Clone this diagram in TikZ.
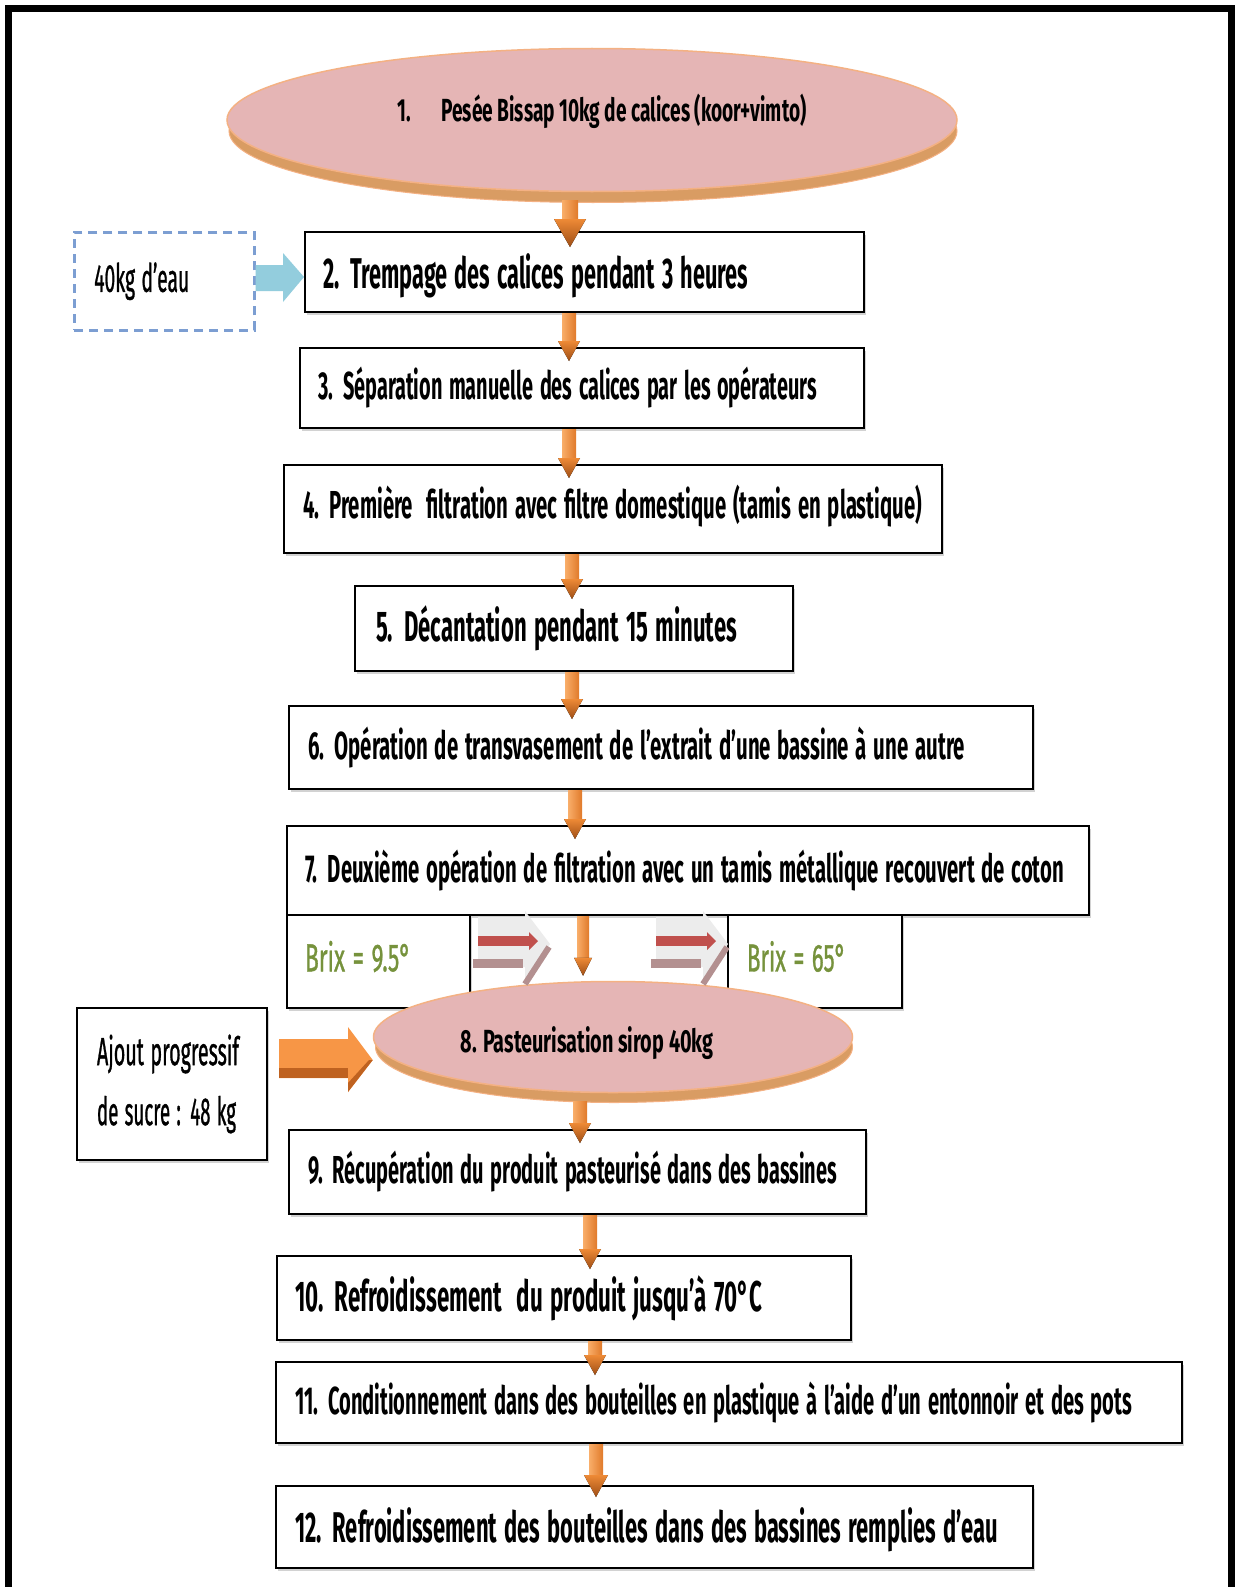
\documentclass[tikz,border=0pt]{standalone}
\usepackage{fontspec}
\setmainfont{Fira Sans}
\newfontfamily\medfont[FakeBold=1.2]{Fira Sans}
\usepackage{graphicx}
\usetikzlibrary{shapes.geometric,calc,shadows}
\definecolor{pinkE}{HTML}{E5B5B5}
\definecolor{rimC}{HTML}{D99C63}
\definecolor{rimE}{HTML}{F4B183}
\definecolor{oraL}{HTML}{F9AE6A}
\definecolor{oraD}{HTML}{E07A2A}
\definecolor{oraM}{HTML}{EE8A36}
\definecolor{oraB}{HTML}{9E4E16}
\definecolor{oraF}{HTML}{F79646}
\definecolor{oraS}{HTML}{BF6220}
\definecolor{cyanA}{HTML}{93CDDD}
\definecolor{dashB}{HTML}{7C9ED2}
\definecolor{brixG}{HTML}{76923C}
\definecolor{redA}{HTML}{C0504D}
\definecolor{mauveA}{HTML}{B39090}
\definecolor{greyA}{HTML}{ECECEC}
\newcommand\fitx[2]{\resizebox{#1}{\height}{#2}}
\newcommand\shiftv[2]{\raisebox{#1}[\height][\depth]{#2}}
% orange block arrow: from, tip, shaft half width, head half width, head length
\newcommand\oarr[5]{%
  \fill[left color=oraL, right color=oraD] let \p1=(#1), \p2=(#2) in
    (\x1-#3pt,\y1) rectangle (\x1+#3pt,\y2+#5pt);
  \fill[top color=oraM, bottom color=oraB] let \p1=(#1), \p2=(#2) in
    (\x1-#4pt,\y2+#5pt) -- (\x1+#4pt,\y2+#5pt) -- (\x1,\y2) -- cycle;
}
% 3D striped arrow next to Brix boxes, #1 = named coordinate of its left end
\newcommand\rarr[1]{%
  \fill[greyA] ($(#1)+(0,-27)$) -- ($(#1)+(47,-27)$) -- ($(#1)+(47,-33)$) -- ($(#1)+(72,0)$)
     -- ($(#1)+(47,40)$) -- ($(#1)+(47,23)$) -- ($(#1)+(0,23)$) -- cycle;
  \fill[mauveA] ($(#1)+(-5,15)$) rectangle ($(#1)+(45,24)$);
  \draw[mauveA, line width=6pt] ($(#1)+(47,40)$) -- ($(#1)+(71,3)$);
  \fill[redA] ($(#1)+(0,-8)$) rectangle ($(#1)+(52,2)$);
  \fill[redA] ($(#1)+(51,-12)$) -- ($(#1)+(60,-3)$) -- ($(#1)+(51,6)$) -- cycle;
}
\begin{document}
\begin{tikzpicture}[x=1pt,y=-1pt,
  box/.style={draw=black, line width=2pt, fill=white, anchor=north west, align=left,
    inner ysep=0pt, drop shadow={shadow xshift=1.5pt, shadow yshift=-3pt, opacity=.35}},
  big/.style={font=\fontsize{43}{48}\selectfont\bfseries},
  med/.style={font=\fontsize{39}{44}\selectfont\bfseries},
  sml/.style={font=\fontsize{32}{36}\selectfont\bfseries},
  reg/.style={font=\fontsize{39}{60}\selectfont\medfont},
  ell/.style={ellipse, fill=pinkE, draw=rimE, line width=1.5pt, inner sep=0pt},
  rim/.style={ellipse, fill=rimC, draw=rimE, line width=1pt, inner sep=0pt},
  lbl/.style={inner sep=0pt}]
\useasboundingbox (0,0) rectangle (1240,1587);
\fill[white] (0,0) rectangle (1240,1587);
% outer frame
\draw[line width=7pt] (8.5,1590) -- (8.5,9) -- (1231,9) -- (1231,1590);

% x positions of the vertical arrows
\coordinate (ax1) at (570,0);
\coordinate (ax2) at (569,0);
\coordinate (ax3) at (569,0);
\coordinate (ax4) at (572,0);
\coordinate (ax5) at (572,0);
\coordinate (ax6) at (575,0);
\coordinate (ax7) at (583,0);
\coordinate (ax8) at (580,0);
\coordinate (ax9) at (590,0);
\coordinate (ax10) at (595,0);
\coordinate (ax11) at (596,0);

% step 1
\node[rim, minimum width=728pt, minimum height=143pt] (e1r) at (593,131) {};
\node[ell, minimum width=730pt, minimum height=143pt] (e1) at (592,120) {};
\node[lbl, sml] (t1) at (602,111) {\fitx{409pt}{1.\hspace{1.6em}Pesée Bissap 10kg de calices (koor+vimto)}};

% water input
\node[draw=dashB, line width=2.5pt, dash pattern=on 9pt off 6pt, anchor=north west, align=left,
  inner xsep=20pt, inner ysep=0pt, text width=140pt, minimum height=98pt, reg] (d) at (73,231)
  {\fitx{95pt}{40kg d’eau}};

% boxes
\node[box, big, inner xsep=18pt, text width=523pt, minimum height=80pt] (b2) at (304,231)
  {\shiftv{-4pt}{\fitx{425pt}{2. Trempage des calices pendant 3 heures}}};
\node[box, med, inner xsep=18pt, text width=528pt, minimum height=80pt] (b3) at (299,347)
  {\fitx{499pt}{3. Séparation manuelle des calices par les opérateurs}};
\node[box, med, inner xsep=19pt, text width=620pt, minimum height=88pt] (b4) at (283,464)
  {\shiftv{3pt}{\fitx{619pt}{4. Première \ filtration avec filtre domestique (tamis en plastique)}}};
\node[box, big, inner xsep=21pt, text width=396pt, minimum height=85pt] (b5) at (354,585)
  {\fitx{361pt}{5. Décantation pendant 15 minutes}};
\node[box, med, inner xsep=19pt, text width=706pt, minimum height=83pt] (b6) at (288,705)
  {\fitx{657pt}{6. Opération de transvasement de l’extrait d’une bassine à une autre}};
\node[box, med, inner xsep=18pt, text width=766pt, minimum height=89pt] (b7) at (286,825)
  {\fitx{759pt}{7. Deuxième opération de filtration avec un tamis métallique recouvert de coton}};
\node[box, reg, text=brixG, inner xsep=18pt, text width=147pt, minimum height=93pt] (bx1) at (286,914)
  {\shiftv{5pt}{\fitx{106pt}{Brix = 9.5°}}};
\node[box, reg, text=brixG, inner xsep=19pt, text width=136pt, minimum height=93pt] (bx2) at (727,914)
  {\shiftv{5pt}{\fitx{99pt}{Brix = 65°}}};
\node[box, reg, inner xsep=20pt, text width=150pt, minimum height=152pt] (aj) at (76,1007)
  {\fitx{142pt}{Ajout progressif}\\\fitx{139pt}{de sucre : 48 kg}};
\node[box, med, inner xsep=19pt, text width=539pt, minimum height=84pt] (b9) at (288,1129)
  {\fitx{529pt}{9. Récupération du produit pasteurisé dans des bassines}};
\node[box, big, inner xsep=18pt, text width=538pt, minimum height=84pt] (b10) at (276,1255)
  {\fitx{467pt}{10. Refroidissement \ du produit jusqu’à 70°C}};
\node[box, med, inner xsep=19pt, text width=868pt, minimum height=81pt] (b11) at (275,1361)
  {\fitx{837pt}{11. Conditionnement dans des bouteilles en plastique à l’aide d’un entonnoir et des pots}};
\node[box, big, inner xsep=19pt, text width=719pt, minimum height=82pt] (b12) at (275,1485)
  {\shiftv{-3pt}{\fitx{703pt}{12. Refroidissement des bouteilles dans des bassines remplies d’eau}}};

% step 8 ellipse
\node[rim, minimum width=477pt, minimum height=111pt] (e8r) at (614,1047) {};
\node[ell, minimum width=479pt, minimum height=111pt] (e8) at (613,1037) {};
\node[lbl, sml] (t8) at (587,1043) {\fitx{253pt}{8. Pasteurisation sirop 40kg}};

% cyan arrow water -> step 2
\fill[cyanA] (d.east |- 0,265) -- (283,265) -- (283,253) -- (b2.west |- 0,277)
  -- (283,302) -- (283,291) -- (d.east |- 0,291) -- cycle;

% big orange arrow sugar -> step 8
\fill[oraF] ($(aj.east |- 0,1039)+(11,0)$) -- (348,1039) -- (348,1027) -- (e8.west |- 0,1060)
  -- (348,1092) -- (348,1078) -- ($(aj.east |- 0,1078)+(11,0)$) -- cycle;
\fill[oraS] ($(aj.east |- 0,1068)+(11,0)$) rectangle (348,1078);
\fill[oraS] (348,1092) -- (e8.west |- 0,1060) -- (369,1060) -- (348,1083) -- cycle;

% Brix arrows
\coordinate (ra1) at (478,944);
\coordinate (ra2) at (656,944);
\rarr{ra1}
\rarr{ra2}

% vertical orange arrows
\oarr{$(e1.south -| ax1)+(0,8)$}{$(b2.north -| ax1)+(0,16)$}{8}{16}{28}
\oarr{b2.south -| ax2}{$(b3.north -| ax2)+(0,14)$}{7}{11}{20}
\oarr{b3.south -| ax3}{$(b4.north -| ax3)+(0,14)$}{7}{11}{20}
\oarr{b4.south -| ax4}{$(b5.north -| ax4)+(0,14)$}{7}{11}{20}
\oarr{b5.south -| ax5}{$(b6.north -| ax5)+(0,14)$}{7}{11}{20}
\oarr{b6.south -| ax6}{$(b7.north -| ax6)+(0,14)$}{7}{11}{20}
\oarr{b7.south -| ax7}{$(e8.north -| ax7)+(0,-5)$}{6}{9}{18}
\oarr{$(e8.south -| ax8)+(0,8)$}{$(b9.north -| ax8)+(0,14)$}{7}{11}{20}
\oarr{b9.south -| ax9}{$(b10.north -| ax9)+(0,14)$}{7}{11}{20}
\oarr{b10.south -| ax10}{$(b11.north -| ax10)+(0,14)$}{7}{11}{20}
\oarr{b11.south -| ax11}{$(b12.north -| ax11)+(0,12)$}{7}{12}{22}
\end{tikzpicture}
\end{document}
